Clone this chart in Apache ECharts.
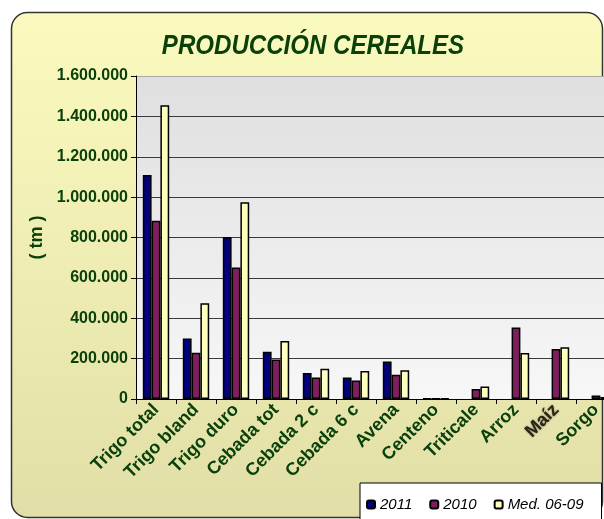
<!DOCTYPE html>
<html>
<head>
<meta charset="utf-8">
<script src="https://cdn.jsdelivr.net/npm/echarts@6/dist/echarts.min.js"></script>
<style>
html,body{margin:0;padding:0;background:#fff;}
#chart{width:604px;height:519px;}
</style>
</head>
<body>
<div id="chart"></div>
<script>
const titleText = 'PRODUCCIÓN CEREALES';
const yAxisName = '( tm )';
const categories = ['Trigo total', 'Trigo blando', 'Trigo duro', 'Cebada total', 'Cebada 2 c', 'Cebada 6 c', 'Avena', 'Centeno', 'Triticale', 'Arroz', 'Maíz', 'Sorgo'];
const seriesNames = ['2011', '2010', 'Med. 06-09'];
const values2011 = [1110000, 300000, 803000, 234000, 129000, 107000, 186000, 2000, null, null, null, null];
const values2010 = [883000, 229000, 652000, 196000, 107000, 92000, 120000, 2000, 50000, 354000, 248000, 17000];
const valuesMed = [1455000, 474000, 974000, 287000, 150000, 139000, 142000, 3000, 62000, 228000, 256000, 10000];
const yTicks = [0, 200000, 400000, 600000, 800000, 1000000, 1200000, 1400000, 1600000];

const green = '#0a400a';
const chart = echarts.init(document.getElementById('chart'), null, {renderer: 'canvas'});

function fmt(v) {
  return String(v).replace(/\B(?=(\d{3})+(?!\d))/g, '.');
}

const colors = ['#000080', '#7f1f5f', '#ffffc0'];
const dataSets = [values2011, values2010, valuesMed];

chart.setOption({
  animation: false,
  backgroundColor: '#ffffff',
  graphic: [{
    type: 'rect',
    z: -10,
    shape: {x: 11.5, y: 12.5, width: 591, height: 505, r: 16},
    style: {
      fill: new echarts.graphic.LinearGradient(0, 0, 0, 1, [
        {offset: 0, color: '#fbfabe'},
        {offset: 1, color: '#e1dfa7'}
      ]),
      stroke: '#333333',
      lineWidth: 1.5
    }
  }, {
    type: 'text',
    z: 10,
    x: 313,
    y: 46,
    scaleX: 0.86,
    style: {
      text: titleText,
      align: 'center',
      verticalAlign: 'middle',
      fill: green,
      font: 'italic bold 28px "Liberation Sans", Arial, sans-serif'
    }
  }],
  legend: {
    data: seriesNames,
    left: 360,
    top: 483,
    width: 270,
    padding: [14, 18, 30, 6],
    itemWidth: 8,
    itemHeight: 8,
    itemGap: 17,
    backgroundColor: '#ffffff',
    borderColor: '#000000',
    borderWidth: 1,
    textStyle: {
      fontFamily: '"Liberation Sans", Arial, sans-serif',
      fontSize: 15,
      fontStyle: 'italic',
      color: '#000'
    }
  },
  grid: {
    left: 136,
    top: 76,
    bottom: 120,
    right: -12,
    outerBoundsMode: 'none',
    containLabel: false,
    show: true,
    borderWidth: 0,
    backgroundColor: new echarts.graphic.LinearGradient(0, 0, 0, 1, [
      {offset: 0, color: '#dfdfdf'},
      {offset: 1, color: '#f7f7f7'}
    ])
  },
  xAxis: {
    type: 'category',
    data: categories.map(function (c) {
      return c === 'Maíz'
        ? {value: c, textStyle: {color: '#2b2418', textShadowColor: 'rgba(0,0,0,0.5)', textShadowBlur: 2}}
        : c;
    }),
    boundaryGap: true,
    axisLine: {lineStyle: {color: '#000', width: 1}},
    axisTick: {show: true, length: 5, alignWithLabel: false, lineStyle: {color: '#000'}},
    axisLabel: {
      interval: 0,
      rotate: 45,
      margin: 8,
      color: green,
      fontFamily: '"Liberation Sans", Arial, sans-serif',
      fontSize: 18,
      fontWeight: 'bold',
      width: 104,
      overflow: 'truncate',
      ellipsis: ''
    }
  },
  yAxis: {
    type: 'value',
    min: 0,
    max: 1600000,
    interval: 200000,
    name: yAxisName,
    nameLocation: 'middle',
    nameGap: 86,
    nameRotate: 90,
    nameTextStyle: {
      color: green,
      fontFamily: '"Liberation Sans", Arial, sans-serif',
      fontSize: 18,
      fontWeight: 'bold'
    },
    axisLine: {show: true, lineStyle: {color: '#000', width: 1}},
    axisTick: {show: true, length: 5, lineStyle: {color: '#000'}},
    axisLabel: {
      margin: 8,
      color: green,
      fontFamily: '"Liberation Sans", Arial, sans-serif',
      fontSize: 16,
      fontWeight: 'bold',
      customValues: yTicks,
      formatter: function (v) { return fmt(v); }
    },
    splitLine: {
      show: true,
      lineStyle: {color: ['#3a3a3a', '#3a3a3a', '#3a3a3a', '#3a3a3a', '#3a3a3a', '#3a3a3a', '#3a3a3a', '#3a3a3a', '#aaaaaa'], width: 1}
    }
  },
  series: seriesNames.map(function (name, i) {
    return {
      name: name,
      type: 'bar',
      data: dataSets[i],
      barGap: '0%',
      barCategoryGap: '34%',
      itemStyle: {color: colors[i], borderColor: '#000', borderWidth: 1.5}
    };
  })
});
</script>
</body>
</html>
